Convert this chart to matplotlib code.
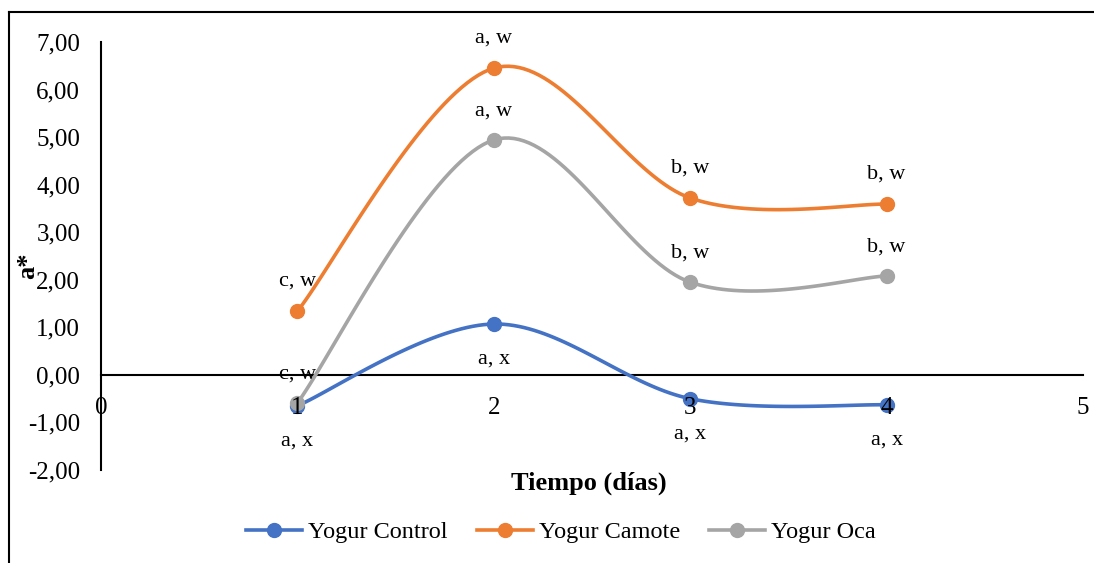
import numpy as np
import matplotlib.pyplot as plt
from matplotlib.lines import Line2D

plt.rcParams['font.family'] = ['Liberation Serif', 'DejaVu Serif']

# dias de almacenamiento
dias = [1, 2, 3, 4]

control = [-0.65, 1.07, -0.50, -0.63]
camote = [1.34, 6.45, 3.72, 3.59]
oca = [-0.59, 4.94, 1.95, 2.08]

lbl_control = ['a, x', 'a, x', 'a, x', 'a, x']
lbl_camote = ['c, w', 'a, w', 'b, w', 'b, w']
lbl_oca = ['c, w', 'a, w', 'b, w', 'b, w']

x_ticks = [0, 1, 2, 3, 4, 5]
y_ticks = [-2, -1, 0, 1, 2, 3, 4, 5, 6, 7]


def smooth(x, y, n=40):
    # bezier tipo excel (catmull-rom)
    p = np.column_stack([x, y]).astype(float)
    p_ext = np.vstack([p[0], p, p[-1]])
    out = []
    for i in range(len(p) - 1):
        p0, p1, p2, p3 = p_ext[i], p_ext[i + 1], p_ext[i + 2], p_ext[i + 3]
        c1 = p1 + (p2 - p0) / 6
        c2 = p2 - (p3 - p1) / 6
        t = np.linspace(0, 1, n)[:, None]
        seg = ((1 - t) ** 3 * p1 + 3 * (1 - t) ** 2 * t * c1
               + 3 * (1 - t) * t ** 2 * c2 + t ** 3 * p2)
        out.append(seg if i == 0 else seg[1:])
    seg = np.vstack(out)
    return seg[:, 0], seg[:, 1]


fig = plt.figure(figsize=(10.94, 5.63), dpi=100)
ax = fig.add_axes([101 / 1094, 1 - 470 / 563, 982 / 1094, 428 / 563])

series = [
    ('Yogur Control', control, '#4472C4', lbl_control, 35),
    ('Yogur Camote', camote, '#ED7D31', lbl_camote, -30),
    ('Yogur Oca', oca, '#A5A5A5', lbl_oca, -29),
]

handles = []
for name, vals, col, lbls, off in series:
    sx, sy = smooth(dias, vals)
    ax.plot(sx, sy, color=col, lw=2.6, zorder=3, solid_capstyle='round')
    ax.plot(dias, vals, 'o', color=col, ms=10, zorder=4)
    handles.append(Line2D([], [], color=col, lw=2.6, marker='o', ms=10))
    for xi, yi, t in zip(dias, vals, lbls):
        ax.annotate(t, (xi, yi), xytext=(0, -off), textcoords='offset pixels',
                    ha='center', va='center', fontsize=16, zorder=5)

ax.set_xlim(0, 5)
ax.set_ylim(-2, 7)
ax.set_xticks(x_ticks)
ax.set_yticks(y_ticks)
ax.set_yticklabels([f'{v:.2f}'.replace('.', ',') for v in y_ticks])
ax.tick_params(axis='both', length=0, labelsize=18)
ax.tick_params(axis='x', pad=16)
ax.tick_params(axis='y', pad=15)
ax.xaxis.set_zorder(6)

ax.spines['top'].set_visible(False)
ax.spines['right'].set_visible(False)
ax.spines['left'].set_position(('data', 0))
ax.spines['bottom'].set_position(('data', 0))
ax.spines['left'].set_linewidth(1.5)
ax.spines['bottom'].set_linewidth(1.5)
ax.patch.set_alpha(0)

ax.set_xlabel('Tiempo (días)', fontsize=19, fontweight='bold')
ax.xaxis.set_label_coords(0.497, -0.003)
fig.text(28 / 1094, 1 - 266 / 563, 'a*', rotation=90, fontsize=19,
         fontweight='bold', ha='center', va='center')

fig.legend(handles, [s[0] for s in series], loc='center', ncol=3,
           bbox_to_anchor=(561 / 1094, 1 - 532 / 563), frameon=False,
           fontsize=17.5, handlelength=2.3, columnspacing=1.2, handletextpad=0.25)

# borde del area del grafico
fig.add_artist(Line2D([9 / 1094, 9 / 1094], [0, 1 - 12 / 563], color='black', lw=1.5,
                      transform=fig.transFigure))
fig.add_artist(Line2D([9 / 1094, 1], [1 - 12 / 563, 1 - 12 / 563], color='black', lw=1.5,
                      transform=fig.transFigure))

fig.savefig('out.png', dpi=100)
